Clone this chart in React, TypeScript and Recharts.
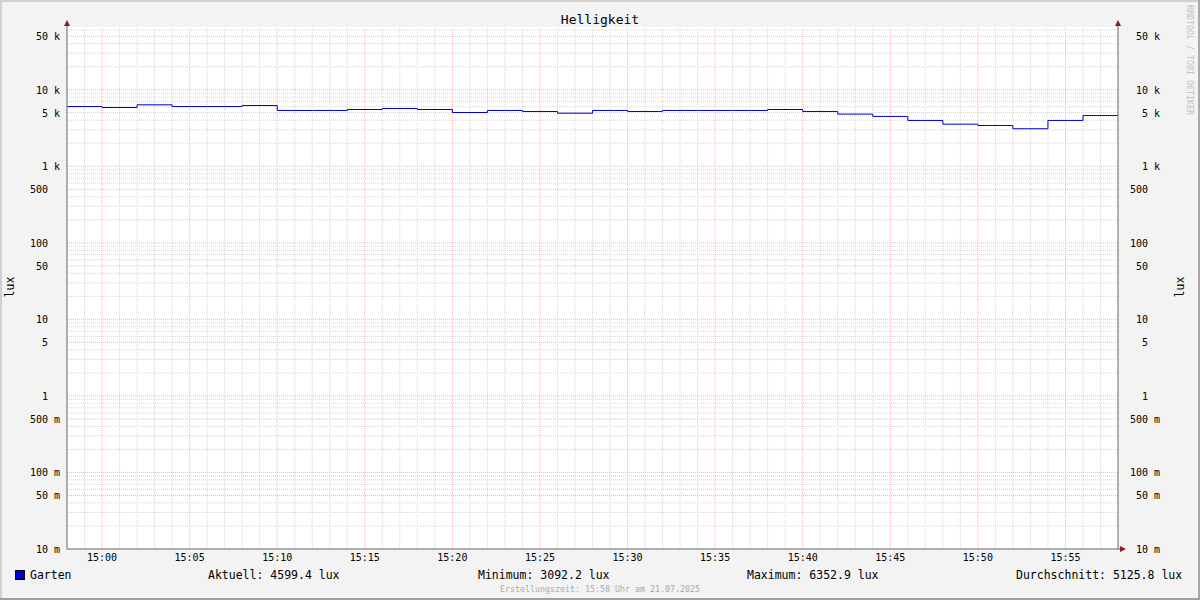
import { LineChart, Line, XAxis, YAxis, CartesianGrid, ReferenceLine } from 'recharts';

// 2-Minuten-Werte (Beginn des Intervalls)
const times = [
  '14:58', '15:00', '15:02', '15:04', '15:06', '15:08', '15:10', '15:12', '15:14', '15:16',
  '15:18', '15:20', '15:22', '15:24', '15:26', '15:28', '15:30', '15:32', '15:34', '15:36',
  '15:38', '15:40', '15:42', '15:44', '15:46', '15:48', '15:50', '15:52', '15:54', '15:56',
];
const garten = [
  6030, 5860, 6352.9, 6030, 6030, 6220, 5360, 5360, 5520, 5690,
  5520, 5040, 5360, 5200, 4940, 5360, 5200, 5360, 5360, 5360,
  5520, 5200, 4800, 4480, 3970, 3550, 3410, 3092.2, 3970, 4599.4,
];
const endTime = '15:58';

const xTickLabels = ['15:00', '15:05', '15:10', '15:15', '15:20', '15:25', '15:30', '15:35', '15:40', '15:45', '15:50', '15:55'];

const yTicks = [0.01, 0.05, 0.1, 0.5, 1, 5, 10, 50, 100, 500, 1000, 5000, 10000, 50000];
const yTickNumbers = ['10', '50', '100', '500', '1', '5', '10', '50', '100', '500', '1', '5', '10', '50'];
const yTickUnits = ['m', 'm', 'm', 'm', '', '', '', '', '', '', 'k', 'k', 'k', 'k'];

const statLabels = ['Aktuell', 'Minimum', 'Maximum', 'Durchschnitt'];
const statValues = ['4599.4', '3092.2', '6352.9', '5125.8'];

const toMin = (t: string) => {
  const [h, m] = t.split(':').map(Number);
  return h * 60 + m - (14 * 60 + 58);
};

const data = [
  ...times.map((t, i) => ({ t: toMin(t), lux: garten[i] })),
  { t: toMin(endTime), lux: garten[garten.length - 1] },
];

const xTicks = xTickLabels.map(toMin);

// Gitter
const minorX: number[] = [];
for (let m = 1; m < 60; m++) if (!xTicks.includes(m)) minorX.push(m);
const minorY: number[] = [];
const majorY: number[] = [];
for (let e = -2; e <= 4; e++) {
  const d = Math.pow(10, e);
  [2, 3, 4, 6, 7, 8, 9].forEach((k) => {
    if (k * d < 66000) minorY.push(k * d);
  });
  if (e > -2) majorY.push(d);
  majorY.push(5 * d);
}

const MONO = '"DejaVu Sans Mono", monospace';
const GRID = '#d6d6d6';
const MGRID = '#f0b6b6';
const DASH = '1 1';

function YTick(props: any) {
  const { x, y, payload } = props;
  const i = yTicks.indexOf(payload.value);
  const numEnd = x - 12;
  return (
    <g>
      <text x={numEnd} y={y + 0.5} textAnchor="end" dominantBaseline="central" fontFamily={MONO} fontSize={10} fill="#000">
        {yTickNumbers[i]}
      </text>
      {yTickUnits[i] && (
        <text x={numEnd + 6} y={y + 0.5} textAnchor="start" dominantBaseline="central" fontFamily={MONO} fontSize={10} fill="#000">
          {yTickUnits[i]}
        </text>
      )}
    </g>
  );
}

export default function App() {
  return (
    <div style={{ position: 'absolute', left: 0, top: 0, width: 1200, height: 600, background: '#f3f3f3' }}>
      <LineChart width={1200} height={600} data={data} margin={{ top: 27, right: 0, bottom: 0, left: 0 }}>
        <CartesianGrid fill="#fff" horizontal={false} vertical={false} />
        {minorX.map((v) => (
          <ReferenceLine key={'mx' + v} x={v} stroke={GRID} strokeDasharray={DASH} />
        ))}
        {minorY.map((v) => (
          <ReferenceLine key={'my' + v} y={v} stroke={GRID} strokeDasharray={DASH} />
        ))}
        {xTicks.map((v) => (
          <ReferenceLine key={'Mx' + v} x={v} stroke={MGRID} strokeDasharray={DASH} />
        ))}
        {majorY.map((v) => (
          <ReferenceLine key={'My' + v} y={v} stroke={MGRID} strokeDasharray={DASH} />
        ))}
        <XAxis
          dataKey="t"
          type="number"
          domain={[0, 60]}
          ticks={xTicks}
          interval={0}
          tickFormatter={(v: number) => xTickLabels[xTicks.indexOf(v)]}
          height={51}
          tickLine={false}
          tickSize={0}
          tickMargin={5}
          axisLine={{ stroke: '#666' }}
          tick={{ fontFamily: MONO, fontSize: 10, fill: '#000' }}
        />
        <YAxis
          scale="log"
          type="number"
          domain={[0.01, 66000]}
          allowDataOverflow
          ticks={yTicks}
          interval={0}
          width={67}
          tickLine={false}
          tickSize={0}
          tickMargin={7}
          axisLine={{ stroke: '#666' }}
          tick={<YTick />}
        />
        <YAxis
          yAxisId="r"
          orientation="right"
          scale="log"
          type="number"
          domain={[0.01, 66000]}
          allowDataOverflow
          ticks={yTicks}
          interval={0}
          width={82}
          tickLine={false}
          tickSize={0}
          tickMargin={42}
          axisLine={{ stroke: '#666' }}
          tick={<YTick />}
        />
        <Line
          type="stepAfter"
          dataKey="lux"
          stroke="#0000cc"
          strokeWidth={1}
          dot={false}
          isAnimationActive={false}
        />
      </LineChart>

      <svg width={1200} height={600} style={{ position: 'absolute', left: 0, top: 0, pointerEvents: 'none' }}>
        {/* Rahmen */}
        <rect x={0} y={0} width={1200} height={2} fill="#d0d0d0" />
        <rect x={0} y={0} width={2} height={600} fill="#d0d0d0" />
        <rect x={1198} y={0} width={2} height={600} fill="#a8a8a8" />
        <rect x={0} y={598} width={1200} height={2} fill="#a0a0a0" />

        {/* Achsenpfeile */}
        <line x1={67} y1={24} x2={67} y2={27} stroke="#666" />
        <line x1={1118} y1={24} x2={1118} y2={27} stroke="#666" />
        <line x1={1118} y1={549} x2={1121} y2={549} stroke="#666" />
        <polygon points="67,20 64,26 70,26" fill="#8b1a1a" />
        <polygon points="1118,20 1115,26 1121,26" fill="#8b1a1a" />
        <polygon points="1126,549 1120,546 1120,552" fill="#8b1a1a" />

        <text x={600} y={24} textAnchor="middle" fontFamily={MONO} fontSize={13} fill="#000">
          Helligkeit
        </text>

        <text transform="translate(14,287) rotate(-90)" textAnchor="middle" fontFamily={MONO} fontSize={11.5} fill="#000">
          lux
        </text>
        <text transform="translate(1184,287) rotate(-90)" textAnchor="middle" fontFamily={MONO} fontSize={11.5} fill="#000">
          lux
        </text>

        <text transform="translate(1187,5) rotate(90)" textAnchor="start" fontFamily={MONO} fontSize={8.3} fill="#c2c2c2">
          RRDTOOL / TOBI OETIKER
        </text>

        {/* Legende */}
        <rect x={15.5} y={570.5} width={9} height={9} fill="#0000cc" stroke="#000" />
        <text x={30} y={579} fontFamily={MONO} fontSize={11.5} fill="#000">
          Garten
        </text>
        {statLabels.map((l, i) => (
          <text key={l} x={[208, 478, 747, 1016][i]} y={579} fontFamily={MONO} fontSize={11.5} fill="#000">
            {`${l}: ${statValues[i]} lux`}
          </text>
        ))}

        <text x={600} y={592} textAnchor="middle" fontFamily={MONO} fontSize={8.3} fill="#aaa">
          Erstellungszeit: 15:58 Uhr am 21.07.2025
        </text>
      </svg>
    </div>
  );
}
